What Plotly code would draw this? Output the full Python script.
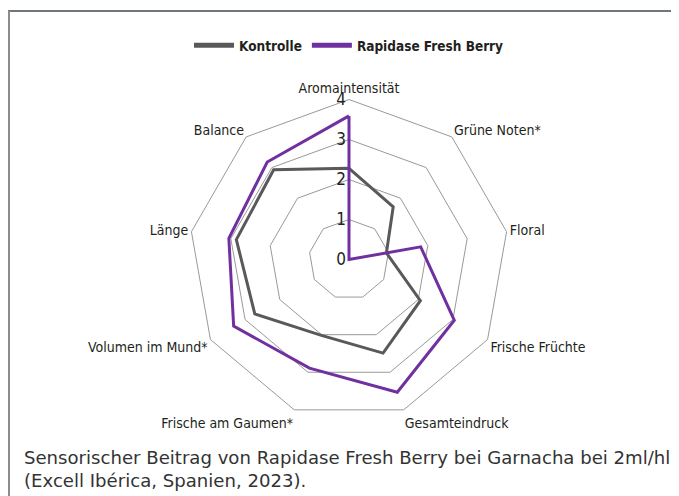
import plotly.graph_objects as go

categories = ["Aromaintensität", "Grüne Noten*", "Floral", "Frische Früchte", "Gesamteindruck",
              "Frische am Gaumen*", "Volumen im Mund*", "Länge", "Balance"]
kontrolle = [2.28, 1.72, 0.95, 2.06, 2.49, 2.02, 2.72, 2.86, 2.93]
fresh_berry = [3.59, 0.0, 1.82, 3.04, 3.53, 2.89, 3.33, 3.05, 3.18]
radial_ticks = [0, 1, 2, 3, 4]
series_names = ["Kontrolle", "Rapidase Fresh Berry"]
series_colors = ["#595959", "#7030A0"]

# page has an 8px body margin; figure sized to fill the rest of the window
OFF = 8
W, H = 679 - OFF, 496 - OFF
cx, cy, R = 349 - OFF, 259.5 - OFF, 160  # screen-measured centre, converted


def px(x):
    return (x - OFF) / W


def py(y):
    return 1 - (y - OFF) / H


def close(v):
    return list(v) + [v[0]]


fig = go.Figure()
for name, vals, col in zip(series_names, [kontrolle, fresh_berry], series_colors):
    fig.add_trace(go.Scatterpolar(r=close(vals), theta=close(categories), mode="lines",
                                  name=name, showlegend=False, legendgroup=name,
                                  line=dict(color=col, width=3)))
# legend entries with thicker key lines
for name, col in zip(series_names, series_colors):
    fig.add_trace(go.Scatterpolar(r=[None], theta=[categories[0]], mode="lines",
                                  name=name, legendgroup=name, showlegend=True,
                                  line=dict(color=col, width=5)))

cond = "DejaVu Sans Condensed, DejaVu Sans, sans-serif"
label_font = dict(family=cond, size=14, color="#231f20")

fig.update_layout(
    width=W, height=H,
    margin=dict(l=0, r=0, t=0, b=0),
    paper_bgcolor="white", plot_bgcolor="white",
    showlegend=True,
    legend=dict(orientation="h", x=px(349), xanchor="center", y=py(30), yanchor="top",
                font=dict(family=cond, size=13.5, color="#231f20", weight="bold"),
                itemwidth=40),
    polar=dict(
        domain=dict(x=[cx / W - R / W, cx / W + R / W], y=[1 - (cy + R) / H, 1 - (cy - R) / H]),
        bgcolor="white",
        gridshape="linear",
        radialaxis=dict(range=[0, 4], tickvals=radial_ticks, ticktext=[str(t) for t in radial_ticks],
                        showline=False, showgrid=True, gridcolor="#999999", gridwidth=1,
                        angle=90, tickangle=90, side="counterclockwise", ticks="",
                        tickfont=dict(family=cond, size=17, color="#231f20")),
        angularaxis=dict(rotation=90, direction="clockwise", showgrid=False,
                         showline=True, linecolor="#999999", linewidth=1, ticks="",
                         tickfont=label_font),
    ),
    shapes=[
        dict(type="line", xref="paper", yref="paper", x0=px(8), x1=1, y0=py(11), y1=py(11),
             line=dict(color="#404a50", width=1.5)),
        dict(type="line", xref="paper", yref="paper", x0=px(9), x1=px(9), y0=0, y1=py(11),
             line=dict(color="#8c8c8c", width=2)),
    ],
    annotations=[
        dict(text="Sensorischer Beitrag von Rapidase Fresh Berry bei Garnacha bei 2ml/hl",
             xref="paper", yref="paper", x=px(22), y=py(457), xanchor="left", yanchor="middle",
             showarrow=False, font=dict(family="DejaVu Sans, sans-serif", size=18.1, color="#333333")),
        dict(text="(Excell Ibérica, Spanien, 2023).",
             xref="paper", yref="paper", x=px(22), y=py(480), xanchor="left", yanchor="middle",
             showarrow=False, font=dict(family="DejaVu Sans, sans-serif", size=18.1, color="#333333")),
    ],
)

fig.write_html("out.html")
